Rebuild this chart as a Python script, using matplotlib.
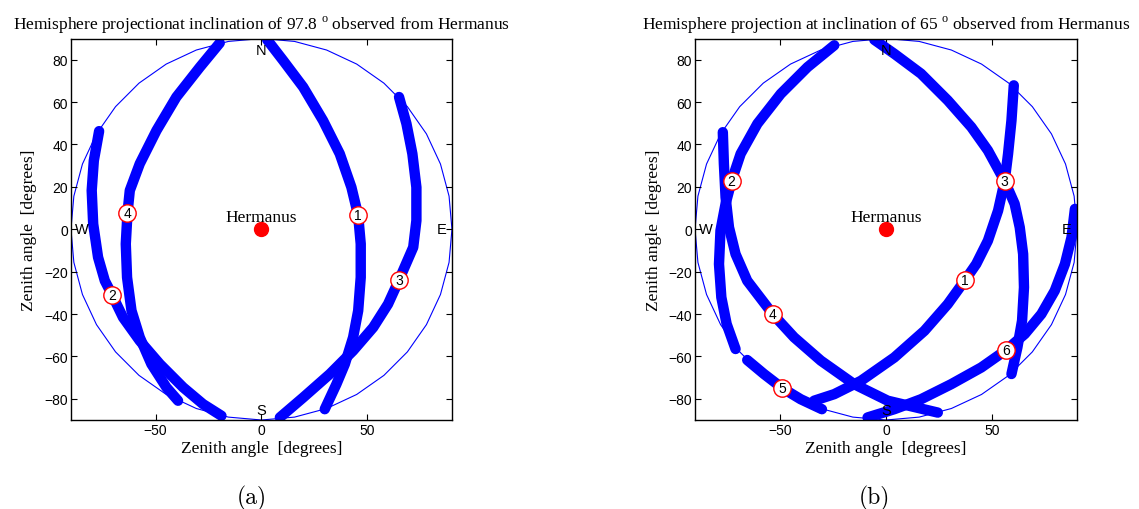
import matplotlib
matplotlib.use('Agg')
import matplotlib.pyplot as plt
import matplotlib.patches as patches

plt.rcParams['font.family'] = 'Liberation Serif'
plt.rcParams['mathtext.fontset'] = 'custom'
plt.rcParams['mathtext.rm'] = 'Liberation Serif'

# (a) inclination 97.8 -- satellite tracks
a_track1_x = [2.7, 10.2, 19.7, 29.1, 37.0, 42.5, 45.7, 46.9, 46.9, 45.7, 43.3, 39.4, 35.4, 29.9]
a_track1_y = [89.4, 79.7, 67.1, 51.3, 35.6, 19.8, 6.5, -6.9, -22.7, -38.4, -51.0, -63.6, -73.1, -84.9]
a_track2_x = [65.0, 68.5, 71.3, 73.2, 73.2, 71.7, 65.0, 59.8, 52.8, 43.3, 32.3, 19.7, 8.7]
a_track2_y = [62.4, 49.8, 35.6, 19.8, 4.1, -8.5, -23.9, -35.3, -46.3, -57.3, -68.3, -79.4, -88.8]
a_track3_x = [-19.7, -29.1, -40.2, -49.6, -57.5, -62.2, -63.3, -64.1, -63.5, -61.4, -57.5, -52.0, -44.9, -39.4]
a_track3_y = [87.9, 76.5, 62.4, 46.6, 30.9, 18.3, 7.6, -6.9, -22.7, -38.4, -51.0, -63.6, -74.6, -80.9]
a_track4_x = [-76.7, -79.2, -80.2, -79.5, -77.2, -74.0, -70.6, -65.4, -57.5, -48.0, -37.0, -27.6, -18.9]
a_track4_y = [46.3, 32.4, 18.3, 2.5, -13.2, -24.3, -30.9, -41.6, -52.6, -63.6, -74.6, -82.5, -88.0]
a_mark_x = [45.7, -70.6, 65.0, -63.3]
a_mark_y = [6.5, -30.9, -23.9, 7.6]

# (b) inclination 65
b_track1_x = [-5.5, 3.9, 16.5, 29.1, 40.2, 48.0, 55.9, 60.6, 63.0, 64.6, 65.0, 64.1, 61.9, 59.1]
b_track1_y = [89.4, 82.8, 73.4, 60.8, 48.2, 37.2, 22.7, 12.0, 0.9, -11.7, -27.4, -43.1, -55.7, -68.3]
b_track2_x = [60.2, 59.1, 57.5, 55.9, 52.8, 48.0, 42.5, 37.3, 29.1, 18.1, 3.9, -11.8, -24.4, -33.9]
b_track2_y = [67.9, 51.3, 35.6, 22.7, 8.8, -5.4, -16.4, -23.9, -35.3, -47.9, -60.5, -71.5, -77.8, -80.9]
b_track3_x = [89.0, 87.4, 84.3, 79.5, 73.2, 65.4, 56.7, 44.9, 30.7, 16.5, 3.9, -8.7]
b_track3_y = [9.6, -3.8, -16.4, -29.0, -40.0, -49.4, -56.9, -65.2, -73.1, -80.2, -84.9, -88.8]
b_track4_x = [-76.9, -76.4, -75.6, -74.0, -70.9, -65.4, -53.4, -43.3, -30.7, -15.0, 0.8, 24.4]
b_track4_y = [45.8, 30.9, 15.1, 0.9, -11.7, -24.3, -40.0, -51.0, -62.0, -73.1, -80.9, -86.5]
b_track5_x = [-24.4, -37.0, -49.6, -60.6, -68.5, -72.8, -75.6, -78.0, -78.7, -77.6, -75.1, -70.9]
b_track5_y = [86.8, 76.5, 63.9, 49.8, 35.6, 22.7, 12.0, -0.6, -16.4, -32.1, -44.7, -56.5]
b_track6_x = [-65.4, -57.5, -48.8, -40.2, -30.2]
b_track6_y = [-61.7, -68.3, -75.0, -80.2, -84.9]
b_mark_x = [37.3, -72.8, 55.9, -53.4, -48.8, 56.7]
b_mark_y = [-23.9, 22.7, 22.7, -40.0, -75.0, -56.9]

tracks_a = [(a_track1_x, a_track1_y), (a_track2_x, a_track2_y),
            (a_track3_x, a_track3_y), (a_track4_x, a_track4_y)]
tracks_b = [(b_track1_x, b_track1_y), (b_track2_x, b_track2_y),
            (b_track3_x, b_track3_y), (b_track4_x, b_track4_y),
            (b_track5_x, b_track5_y), (b_track6_x, b_track6_y)]


def panel(ax, tracks, mx, my, title):
    # horizon
    ax.add_patch(patches.RegularPolygon((0, 0), 36, radius=90, fill=False,
                                        ec='b', lw=0.8, zorder=1))
    for tx, ty in tracks:
        ax.plot(tx, ty, color='b', lw=7.5, solid_capstyle='round',
                solid_joinstyle='round', zorder=2)
    for i in range(len(mx)):
        ax.plot(mx[i], my[i], 'o', ms=12.5, mfc='white', mec='red', mew=1,
                zorder=3)
        ax.text(mx[i], my[i], str(i + 1), ha='center', va='center',
                fontsize=10, family='Liberation Sans', zorder=4)
    ax.plot(0, 0, 'o', color='red', ms=10, zorder=3)
    ax.text(0, 6, 'Hermanus', ha='center', va='center', fontsize=12.5, zorder=4)
    sans = dict(ha='center', va='center', fontsize=10.5, family='Liberation Sans', zorder=4)
    ax.text(0, 84.7, 'N', **sans)
    ax.text(0, -85.4, 'S', **sans)
    ax.text(-85, 0, 'W', **sans)
    ax.text(85, 0, 'E', **sans)

    ax.set_xlim(-90, 90)
    ax.set_ylim(-90, 90)
    ax.set_xticks([-50, 0, 50])
    ax.set_yticks(range(-80, 81, 20))
    ax.tick_params(direction='in', top=True, right=True, length=4, pad=2,
                   labelsize=10, width=0.8)
    for lab in ax.get_xticklabels() + ax.get_yticklabels():
        lab.set_family('Liberation Sans')
    for s in ax.spines.values():
        s.set_linewidth(1.0)
    ax.set_xlabel('Zenith angle  [degrees]', fontsize=12.5, labelpad=2)
    ax.set_ylabel('Zenith angle  [degrees]', fontsize=12.5, labelpad=5)
    ax.set_title(title, fontsize=12.5, pad=7)


fig = plt.figure(figsize=(11.39, 5.10), dpi=100)
ax1 = fig.add_axes([0.0623, 0.1745, 0.3345, 0.748])
ax2 = fig.add_axes([0.6102, 0.1745, 0.3354, 0.748])

panel(ax1, tracks_a, a_mark_x, a_mark_y,
      r'Hemisphere projectionat inclination of 97.8 $^{\mathrm{o}}$ observed from Hermanus')
panel(ax2, tracks_b, b_mark_x, b_mark_y,
      r'Hemisphere projection at inclination of 65 $^{\mathrm{o}}$ observed from Hermanus')

fig.text(251.5 / 1139, 1 - 498 / 510, '(a)', ha='center', va='center',
         fontsize=17, family='cmr10')
fig.text(874 / 1139, 1 - 498 / 510, '(b)', ha='center', va='center',
         fontsize=17, family='cmr10')

fig.savefig('out.png', dpi=100)
